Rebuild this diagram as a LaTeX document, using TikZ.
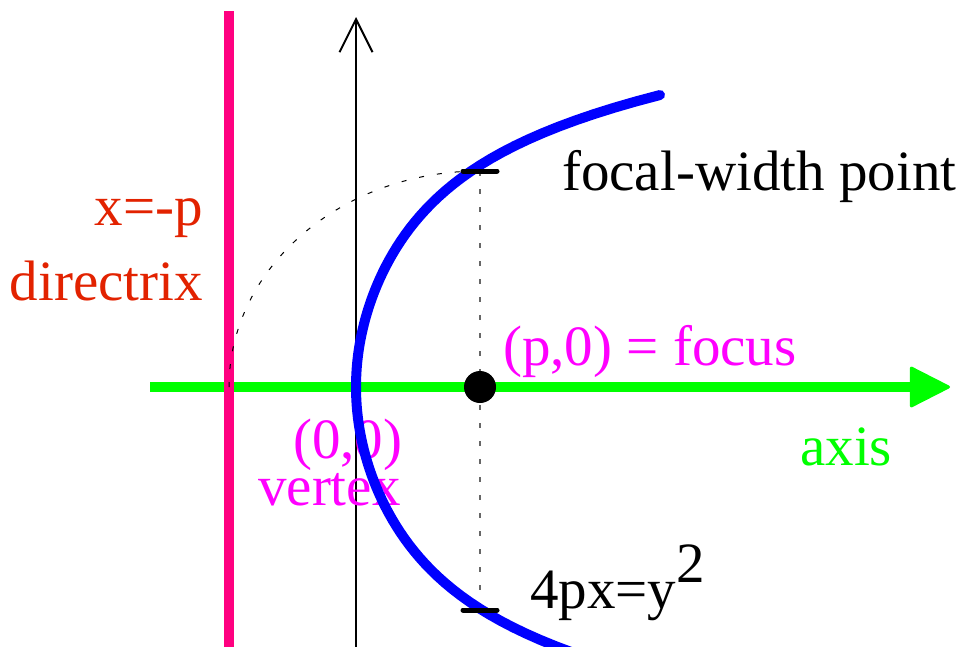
\documentclass[tikz,border=0pt]{standalone}
\usepackage{fontspec}
\setmainfont{Liberation Serif}
\usepackage{xcolor}
\usetikzlibrary{arrows.meta}

\definecolor{dirpink}{RGB}{255,0,128}
\definecolor{dirred}{RGB}{226,34,0}
\definecolor{focmag}{RGB}{255,0,255}
\definecolor{axgreen}{RGB}{0,255,0}

\begin{document}
\begin{tikzpicture}[
    x=1pt, y=-1pt,
    lbl/.style={inner sep=0pt, font=\fontsize{57}{60}\selectfont},
    parab/.style={blue, line width=10pt, line cap=round},
    guide/.style={line width=1pt, dash pattern=on 5pt off 13pt},
    tickmark/.style={line width=5pt, line cap=round},
]
    \useasboundingbox (0,0) rectangle (962,646);

    % Reference points
    \coordinate (yB) at (356,650);
    \coordinate (yT) at (356,17);
    \coordinate (axL) at (150,387);
    \coordinate (axR) at (950,387);
    \coordinate (dT) at (229,11);
    \coordinate (dB) at (229,650);
    \coordinate (d0) at (229,387);
    \coordinate (fwT) at (480,171);
    \coordinate (fwB) at (480,610);

    % Axes and directrix
    \draw[line width=2pt, -{Straight Barb[length=33pt, width=33pt]}] (yB) -- (yT);
    \draw[axgreen, line width=10pt, -{Triangle[length=42pt, width=42pt, line width=3pt, round]}] (axL) -- (axR);
    \draw[dirpink, line width=10pt] (dB) -- (dT);

    % Dotted guides
    \draw[guide] (d0) arc[start angle=180, end angle=270, x radius=251, y radius=216];
    \draw[guide, black!60, line width=1.5pt] (fwT) -- (fwB);

    % Labels
    \node[lbl, focmag, anchor=base west] (vtx) at (293,458) {(0,0)};
    \node[lbl, focmag, anchor=base west] (vtxlbl) at (258,505) {vertex};
    \node[lbl, focmag, anchor=base west] (foclbl) at (503,365) {(p,0) = focus};
    \node[lbl, dirred, anchor=base east] (dirx) at (203,225) {x=-p};
    \node[lbl, dirred, anchor=base east] (dirlbl) at (203,300) {directrix};
    \node[lbl, axgreen, anchor=base west] (axlbl) at (800,465) {axis};
    \node[lbl, anchor=base west] (fwlbl) at (562,190) {focal-width point};
    \node[lbl, anchor=base west] (eqlbl) at (530,608) {4px=y\raisebox{26pt}{2}};

    % Parabola
    \draw[parab] plot[domain=-2.72:2.92, samples=90, variable=\t]
        ({356 + 20*\t*\t + 0.2154*(\t*\t)^3}, {387 - 100*\t});

    % Focal-width marks and focus
    \draw[tickmark] ([xshift=-17pt]fwT) -- ([xshift=17pt]fwT);
    \draw[tickmark] ([xshift=-17pt]fwB) -- ([xshift=17pt]fwB);
    \node[circle, fill=black, inner sep=0pt, minimum size=32pt] (F) at (480,387) {};
\end{tikzpicture}
\end{document}
